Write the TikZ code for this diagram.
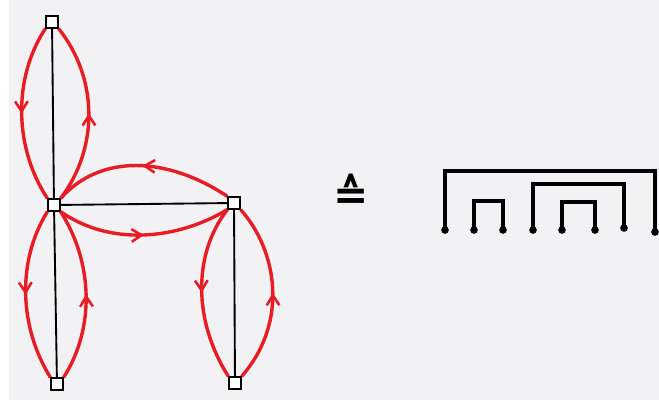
\documentclass[tikz,border=0pt]{standalone}
\usepackage{amsmath,amssymb}
\usepackage{fontspec}
\usepackage{xcolor}
\usetikzlibrary{arrows.meta, decorations.markings}
\newfontfamily\signfont{DejaVu Sans}
\definecolor{paper}{RGB}{242,242,244}
\definecolor{pen}{RGB}{232,28,36}

\begin{document}
\begin{tikzpicture}[
  x=0.03cm, y=-0.03cm,
  vtx/.style={draw, line width=1.6pt, fill=white, minimum size=0.34cm, inner sep=0pt},
  edge/.style={line width=1.6pt},
  tour/.style={pen, line width=2.9pt, postaction={decorate},
    decoration={markings, mark=at position 0.5 with {\arrow{Straight Barb[length=3mm, width=3.8mm, line width=2.2pt]}}}},
  brk/.style={line width=2.8pt, line cap=round},
  leg/.style={circle, fill, inner sep=0pt, minimum size=2.3mm},
]
% paper
\useasboundingbox (0,0) rectangle (659,406);
\fill[white] (0,0) rectangle (659,406);
\fill[paper] (9,0) rectangle (659,400);
% tree vertices
\node[vtx] (top) at (52,22) {};
\node[vtx] (c) at (54,205) {};
\node[vtx] (r) at (234,203) {};
\node[vtx] (bl) at (57,384) {};
\node[vtx] (br) at (235,383) {};
% tree edges
\draw[edge] (top) -- (c);
\draw[edge] (c) -- (r);
\draw[edge] (c) -- (bl);
\draw[edge] (r) -- (br);
% contour walk
\draw[tour] (c.north east) .. controls +(38,-50) and +(40,50) .. (top.south east);
\draw[tour] (top.south west) .. controls +(-33,50) and +(-33,-50) .. (c.north west);
\draw[tour] (c.south west) .. controls +(-31,50) and +(-31,-50) .. (bl.north west);
\draw[tour] (bl.north east) .. controls +(32,-50) and +(32,50) .. (c.south east);
\draw[tour] (c.south east) .. controls +(50,35) and +(-50,30) .. (r.south west);
\draw[tour] (r.south west) .. controls +(-35,45) and +(-35,-55) .. (br.north west);
\draw[tour] (br.north east) .. controls +(48,-55) and +(36,40) .. (r.south east);
\draw[tour] (r.north west) .. controls +(-60,-40) and +(40,-45) .. (c.north east);
% correspondence sign
\node[font=\signfont\bfseries\fontsize{36}{38}\selectfont] (corr) at (351,192) {≙};
% bracket sequence
\draw[brk] (445,230) -- (445,171) -- (655,171) -- (655,232);
\draw[brk] (474,230) -- (474,201) -- (503,201) -- (503,230);
\draw[brk] (533,230) -- (533,184) -- (624,184) -- (624,228);
\draw[brk] (562,230) -- (562,202) -- (595,202) -- (595,230);
\foreach \x/\y in {445/230, 474/230, 503/230, 533/230, 562/230, 595/230, 624/228, 655/232}
  \node[leg] (l\x) at (\x,\y) {};
\end{tikzpicture}
\end{document}
